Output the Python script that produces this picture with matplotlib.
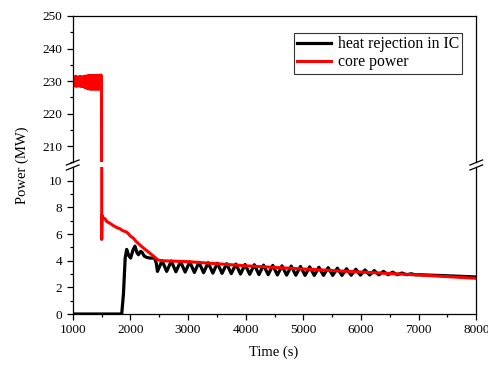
import matplotlib
matplotlib.use("Agg")
import matplotlib.pyplot as plt
import numpy as np

plt.rcParams['font.family'] = ['Liberation Serif', 'DejaVu Serif']
plt.rcParams['font.size'] = 9.5

# core power (MW): full power band before scram, then decay heat
core_t = [1000, 1010, 1020, 1030, 1040, 1050, 1060, 1070, 1080, 1090,
          1100, 1110, 1120, 1130, 1140, 1150, 1160, 1170, 1180, 1190,
          1200, 1210, 1220, 1230, 1240, 1250, 1260, 1270, 1280, 1290,
          1300, 1310, 1320, 1330, 1340, 1350, 1360, 1370, 1380, 1390,
          1400, 1410, 1420, 1430, 1440, 1450, 1460, 1470, 1480, 1490,
          1500, 1503, 1508, 1530, 1560, 1590, 1650, 1700, 1760, 1820,
          1870, 1910, 1950, 2000, 2050, 2100, 2200, 2300, 2400, 2480,
          2550, 3000, 4000, 5000, 6000, 7000, 8000]
core_p = [230.0, 231.3, 228.5, 231.2, 228.6, 231.4, 228.4, 231.3, 228.5, 231.2,
          228.6, 231.3, 228.5, 231.4, 228.4, 231.3, 228.5, 231.2, 228.3, 231.4,
          228.2, 231.5, 228.0, 231.5, 227.9, 231.6, 227.7, 231.6, 227.6, 231.7,
          227.6, 231.6, 227.5, 231.7, 227.6, 231.6, 227.5, 231.7, 227.6, 231.6,
          227.5, 231.8, 227.6, 231.7, 227.5, 231.8, 227.6, 231.7, 227.5, 231.9,
          229.5, 5.6, 7.4, 7.2, 7.15, 6.95, 6.8, 6.65, 6.5, 6.4,
          6.25, 6.2, 6.1, 5.85, 5.7, 5.45, 5.05, 4.7, 4.35, 4.05,
          4.0, 3.93, 3.62, 3.38, 3.15, 2.93, 2.68]

# heat rejection in isolation condenser (MW)
ic_t = [1000, 1850, 1880, 1910, 1936, 1970, 2005, 2045, 2080, 2115,
        2140, 2175, 2200, 2240, 2283, 2340, 2420, 2450, 2470,
        2550, 2630, 2710, 2790, 2870, 2950, 3030, 3110, 3190, 3270,
        3350, 3430, 3510, 3590, 3670, 3750, 3830, 3910, 3990, 4070,
        4150, 4230, 4310, 4390, 4470, 4550, 4630, 4710, 4790, 4870,
        4950, 5030, 5110, 5190, 5270, 5350, 5430, 5510, 5590, 5670,
        5750, 5830, 5910, 5990, 6070, 6150, 6230, 6310, 6390, 6470,
        6550, 6630, 6710, 6790, 6870, 6950, 7000, 7500, 8000]
ic_p = [0.0, 0.0, 1.5, 4.2, 4.85, 4.4, 4.2, 4.8, 5.1, 4.6,
        4.45, 4.7, 4.65, 4.35, 4.25, 4.2, 4.2, 3.8, 3.2,
        4.0, 3.2, 3.97, 3.17, 3.94, 3.15, 3.91, 3.12, 3.88, 3.1,
        3.85, 3.07, 3.81, 3.05, 3.78, 3.03, 3.75, 3.0, 3.72, 2.98,
        3.7, 2.96, 3.67, 2.95, 3.65, 2.93, 3.62, 2.92, 3.6, 2.91,
        3.57, 2.9, 3.54, 2.9, 3.51, 2.9, 3.48, 2.9, 3.44, 2.9,
        3.4, 2.91, 3.36, 2.92, 3.31, 2.93, 3.26, 2.94, 3.2, 2.95,
        3.14, 2.95, 3.08, 2.95, 3.02, 2.94, 2.95, 2.87, 2.78]

fig = plt.figure(figsize=(4.88, 3.65), dpi=100)
ax_top = fig.add_axes([0.149, 0.5548, 0.827, 0.4014])
ax_bot = fig.add_axes([0.149, 0.1397, 0.827, 0.4014])

for ax in (ax_top, ax_bot):
    ax.plot(ic_t, ic_p, color='black', lw=2.3, label='heat rejection in IC')
    ax.plot(core_t, core_p, color='red', lw=2.2, label='core power')
    ax.set_xlim(1000, 8000)
    for s in ax.spines.values():
        s.set_linewidth(0.9)
    ax.tick_params(which='major', direction='out', length=4, width=0.9, right=False, top=False)
    ax.tick_params(which='minor', direction='out', length=2.5, width=0.9, right=False, top=False)

ax_top.set_ylim(205, 250)
ax_top.set_yticks([210, 220, 230, 240, 250])
ax_top.set_yticks(np.arange(205, 251, 5), minor=True)
ax_top.spines['bottom'].set_visible(False)
ax_top.tick_params(axis='x', which='both', bottom=False, labelbottom=False)

ax_bot.set_ylim(0, 11)
ax_bot.set_yticks([0, 2, 4, 6, 8, 10])
ax_bot.set_yticks(np.arange(0, 11, 1), minor=True)
ax_bot.set_xticks(np.arange(1000, 8001, 1000))
ax_bot.set_xticks(np.arange(1000, 8001, 500), minor=True)
ax_bot.spines['top'].set_visible(False)

# axis break marks
d = dict(transform=fig.transFigure, color='black', lw=0.9, clip_on=False)
for xf in (0.149, 0.976):
    for yf in (0.5548, 0.5411):
        fig.add_artist(plt.Line2D([xf - 0.013, xf + 0.013], [yf - 0.007, yf + 0.007], **d))

leg = ax_top.legend(loc='upper right', bbox_to_anchor=(0.965, 0.884), frameon=True,
                    fancybox=False, edgecolor='black', fontsize=11.3,
                    handlelength=2.2, handletextpad=0.4, borderpad=0.2,
                    labelspacing=0.15, borderaxespad=0.0)
leg.get_frame().set_linewidth(0.8)

fig.text(0.045, 0.548, 'Power (MW)', rotation=90, ha='center', va='center', fontsize=10.5)
fig.text(0.56, 0.035, 'Time (s)', ha='center', va='center', fontsize=10.5)

fig.savefig('out.png', dpi=100)
